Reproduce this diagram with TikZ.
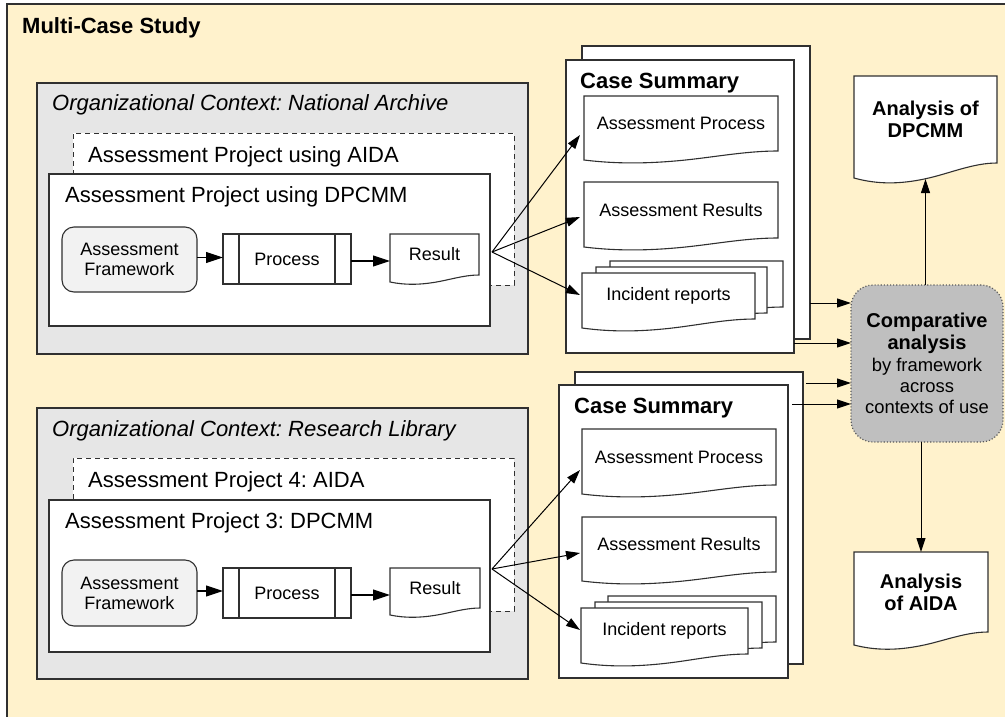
\documentclass[tikz,border=0pt]{standalone}
\usepackage{fontspec}
\setmainfont{Liberation Sans}
\usetikzlibrary{calc,arrows.meta}
\frenchspacing

\definecolor{cream}{HTML}{FFF2CC}
\definecolor{ctxgray}{HTML}{E6E6E6}
\definecolor{afgray}{HTML}{F2F2F2}
\definecolor{cmpgray}{HTML}{BFBFBF}
\definecolor{edge}{HTML}{303030}

% A document sheet: rectangle whose bottom edge is a wave,
% dipping below the south side by "doc depth".
\makeatletter
\newdimen\docL \newdimen\docB \newdimen\docR \newdimen\docT \newdimen\docW \newdimen\docD
\def\docdepthval{8}
\pgfkeys{/tikz/doc depth/.code={\def\docdepthval{#1}}}
\pgfdeclareshape{wavedoc}{
  \inheritsavedanchors[from=rectangle]
  \inheritanchorborder[from=rectangle]
  \inheritanchor[from=rectangle]{center}
  \inheritanchor[from=rectangle]{north}
  \inheritanchor[from=rectangle]{south}
  \inheritanchor[from=rectangle]{east}
  \inheritanchor[from=rectangle]{west}
  \inheritanchor[from=rectangle]{north east}
  \inheritanchor[from=rectangle]{north west}
  \inheritanchor[from=rectangle]{south east}
  \inheritanchor[from=rectangle]{south west}
  \inheritanchor[from=rectangle]{text}
  \inheritanchor[from=rectangle]{base}
  \inheritanchor[from=rectangle]{mid}
  \backgroundpath{
    \southwest \docL=\pgf@x \docB=\pgf@y
    \northeast \docR=\pgf@x \docT=\pgf@y
    \docW=\docR \advance\docW by -\docL
    \pgfmathsetlength\docD{\docdepthval}
    \pgfpathmoveto{\pgfqpoint{\docL}{\docT}}
    \pgfpathlineto{\pgfqpoint{\docR}{\docT}}
    \pgfpathlineto{\pgfqpoint{\docR}{\docB}}
    \pgfpathcurveto
      {\pgfqpoint{\dimexpr\docL+0.83\docW\relax}{\docB}}
      {\pgfqpoint{\dimexpr\docL+0.67\docW\relax}{\dimexpr\docB-0.7\docD\relax}}
      {\pgfqpoint{\dimexpr\docL+0.5\docW\relax}{\dimexpr\docB-1.05\docD\relax}}
    \pgfpathcurveto
      {\pgfqpoint{\dimexpr\docL+0.33\docW\relax}{\dimexpr\docB-1.4\docD\relax}}
      {\pgfqpoint{\dimexpr\docL+0.17\docW\relax}{\dimexpr\docB-1.45\docD\relax}}
      {\pgfqpoint{\docL}{\dimexpr\docB-\docD\relax}}
    \pgfpathclose
  }
}
\makeatother

\newcommand\cmpbold[1]{{\bfseries\fontsize{20}{23}\selectfont #1}}

\begin{document}
\begin{tikzpicture}[x=1pt,y=-1pt,
  box/.style={draw=edge, line width=1.1pt, inner sep=0pt, outer sep=0pt, anchor=north west},
  dashbox/.style={box, draw=edge, line width=1pt, dash pattern=on 5pt off 4pt, fill=white},
  bigtitle/.style={anchor=base west, inner sep=0pt, font=\bfseries\fontsize{22}{26}\selectfont},
  ctxtitle/.style={anchor=base west, inner sep=0pt, font=\itshape\fontsize{22}{26}\selectfont},
  projtitle/.style={anchor=base west, inner sep=0pt, font=\fontsize{22}{26}\selectfont},
  inner/.style={font=\fontsize{18}{20}\selectfont, align=center},
  framebox/.style={box, inner, fill=afgray, rounded corners=12pt, minimum width=135pt, minimum height=65pt},
  procbox/.style={box, inner, fill=white, minimum width=128pt, minimum height=50pt},
  docnode/.style={shape=wavedoc, draw=edge, line width=1.1pt, fill=white, inner sep=0pt,
                  outer sep=0pt, anchor=north west, inner},
  sheet/.style={box, fill=white},
  cmpbox/.style={box, draw=edge!80, dotted, line width=1.2pt, fill=cmpgray, rounded corners=22pt,
                 minimum width=152pt, minimum height=157pt, align=center,
                 font=\fontsize{18.4}{21}\selectfont},
  analysisdoc/.style={docnode, font=\bfseries\fontsize{20}{22}\selectfont},
  arr/.style={draw=black, line width=1pt, -{Triangle[length=14pt,width=9pt]}},
  bigarr/.style={draw=black, line width=1.1pt, -{Triangle[length=17pt,width=11pt]}},
  procline/.style={draw=edge, line width=1.1pt}
]
\useasboundingbox (0,0) rectangle (1005,716);
\clip (0,0) rectangle (1005,716);

% ---- study frame ----
\node[box, fill=cream, line width=1.5pt, minimum width=1012pt, minimum height=732pt] (study) at (7,4) {};
\node[bigtitle] (studytitle) at (22,33) {Multi-Case Study};

% ---- context 1: national archive ----
\node[box, fill=ctxgray, minimum width=491pt, minimum height=271pt] (ctx1) at (37,83) {};
\node[ctxtitle] (ctx1t) at (52,110) {Organizational Context: National Archive};
\node[dashbox, minimum width=441pt, minimum height=152pt] (aida1) at (73,133) {};
\node[projtitle] (aida1t) at (88,162) {Assessment Project using AIDA};
\node[box, fill=white, minimum width=441pt, minimum height=152pt] (dp1) at (49,174) {};
\node[projtitle] (dp1t) at (65,202) {Assessment Project using DPCMM};
\node[framebox] (af1) at (62,227) {Assessment\\Framework};
\node[procbox] (proc1) at (223,234) {Process};
\draw[procline] ($(proc1.north west)+(16,0)$) -- ($(proc1.south west)+(16,0)$);
\draw[procline] ($(proc1.north east)+(-16,0)$) -- ($(proc1.south east)+(-16,0)$);
\node[docnode, doc depth=7, minimum width=89pt, minimum height=41pt] (res1) at (390,234) {Result};
\coordinate (a1) at ($(af1.east)+(0,-2)$);
\coordinate (p1) at ($(proc1.east)+(0,2)$);
\draw[bigarr] (a1) -- (a1 -| proc1.west);
\draw[bigarr] (p1) -- (p1 -| res1.west);

% ---- context 2: research library ----
\node[box, fill=ctxgray, minimum width=491pt, minimum height=271pt] (ctx2) at (37,408) {};
\node[ctxtitle] (ctx2t) at (52,436) {Organizational Context: Research Library};
\node[dashbox, minimum width=441pt, minimum height=153pt] (aida2) at (73,458) {};
\node[projtitle] (aida2t) at (88,487) {Assessment Project 4: AIDA};
\node[box, fill=white, minimum width=441pt, minimum height=152pt] (dp2) at (49,500) {};
\node[projtitle] (dp2t) at (65,528) {Assessment Project 3: DPCMM};
\node[framebox, minimum height=66pt] (af2) at (62,560) {Assessment\\Framework};
\node[procbox] (proc2) at (223,568) {Process};
\draw[procline] ($(proc2.north west)+(16,0)$) -- ($(proc2.south west)+(16,0)$);
\draw[procline] ($(proc2.north east)+(-16,0)$) -- ($(proc2.south east)+(-16,0)$);
\node[docnode, doc depth=7, minimum width=90pt, minimum height=40pt] (res2) at (390,568) {Result};
\coordinate (a2) at ($(af2.east)+(0,-2)$);
\coordinate (p2) at ($(proc2.east)+(0,2)$);
\draw[bigarr] (a2) -- (a2 -| proc2.west);
\draw[bigarr] (p2) -- (p2 -| res2.west);

% ---- case summary 1 ----
\node[sheet, minimum width=228pt, minimum height=293pt] (cs1b) at (582,46) {};
\node[sheet, minimum width=228pt, minimum height=293pt] (cs1f) at (566,60) {};
\node[bigtitle] (cs1t) at (580,88) {Case Summary};
\node[docnode, doc depth=9, minimum width=194pt, minimum height=55pt] (ap1) at (584,96) {Assessment Process};
\node[docnode, doc depth=9, minimum width=194pt, minimum height=56pt] (ar1) at (584,182) {Assessment Results};
\node[docnode, doc depth=9, minimum width=173pt, minimum height=46pt] (ir1b) at (610,261) {};
\node[docnode, doc depth=9, minimum width=171pt, minimum height=46pt] (ir1m) at (596,267) {};
\node[docnode, doc depth=9, minimum width=173pt, minimum height=46pt] (ir1) at (582,273) {Incident reports};

% ---- case summary 2 ----
\node[sheet, minimum width=228pt, minimum height=292pt] (cs2b) at (575,372) {};
\node[sheet, minimum width=229pt, minimum height=293pt] (cs2f) at (559,385) {};
\node[bigtitle] (cs2t) at (574,413) {Case Summary};
\node[docnode, doc depth=9, minimum width=194pt, minimum height=56pt] (ap2) at (582,429) {Assessment Process};
\node[docnode, doc depth=9, minimum width=194pt, minimum height=55pt] (ar2) at (582,517) {Assessment Results};
\node[docnode, doc depth=9, minimum width=168pt, minimum height=46pt] (ir2b) at (608,596) {};
\node[docnode, doc depth=9, minimum width=167pt, minimum height=46pt] (ir2m) at (595,602) {};
\node[docnode, doc depth=9, minimum width=167pt, minimum height=46pt] (ir2) at (581,608) {Incident reports};

% ---- fan-out from each project into its case summary ----
\coordinate (fan1) at ($(dp1.east)+(2,2)$);
\draw[arr] (fan1) -- ($(ap1.north west)+(-4,39)$);
\draw[arr] (fan1) -- ($(ar1.north west)+(-4,35)$);
\draw[arr] (fan1) -- ($(ir1.north west)+(-2,22)$);
\coordinate (fan2) at ($(dp2.east)+(2,-7)$);
\draw[arr] (fan2) -- ($(ap2.north west)+(-2,41)$);
\draw[arr] (fan2) -- ($(ar2.north west)+(-2,36)$);
\draw[arr] (fan2) -- ($(ir2.north west)+(-1,22)$);

% ---- comparative analysis and its outputs ----
\node[cmpbox] (cmp) at (851,285)
  {\cmpbold{Comparative}\\[1pt] \cmpbold{analysis}\\[1pt] by framework\\ across\\ contexts of use};
\node[analysisdoc, doc depth=15, minimum width=143pt, minimum height=87pt] (adp) at (854,76) {Analysis of\\DPCMM};
\node[analysisdoc, doc depth=13, minimum width=134pt, minimum height=80pt] (aaida) at (854,552) {Analysis\\of AIDA};

\coordinate (s1) at ($(cs1b.north east)+(0,257)$);
\coordinate (s2) at ($(cs1f.north east)+(0,283)$);
\coordinate (s3) at ($(cs2b.north east)+(3,11)$);
\coordinate (s4) at ($(cs2f.north east)+(4,19)$);
\draw[arr] (s1) -- (s1 -| cmp.west);
\draw[arr] (s2) -- (s2 -| cmp.west);
\draw[arr] (s3) -- (s3 -| cmp.west);
\draw[arr] (s4) -- (s4 -| cmp.west);

\draw[arr] (adp.south |- cmp.north) -- ($(adp.south)+(0,16)$);
\draw[arr] (cmp.south -| aaida.north) -- (aaida.north);
\end{tikzpicture}
\end{document}
